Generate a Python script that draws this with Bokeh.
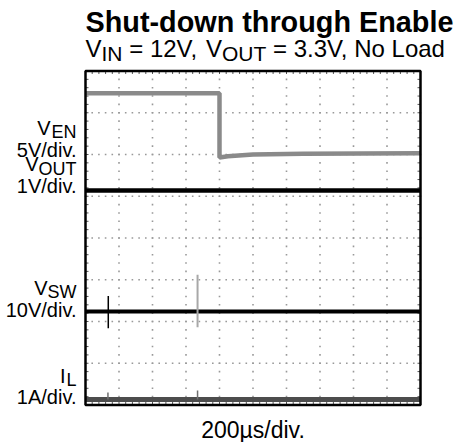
from bokeh.plotting import figure
from bokeh.models import Label, Range1d
from bokeh.embed import file_html
from bokeh.resources import INLINE

# ---- data (time in microseconds, amplitude in screen divisions) ----
t_en = [0, 800, 800, 850, 1000, 1300, 2000]
v_en = [7.47, 7.47, 5.93, 5.96, 6.00, 6.02, 6.03]

t_out = [0, 2000]
v_out = [5.14, 5.14]

t_sw = [0, 2000]
v_sw = [2.24, 2.24]
sw_spike_t = [136, 669]
sw_spike_lo = [1.84, 1.86]
sw_spike_hi = [2.61, 3.12]

t_il = [0, 2000]
v_il = [0.13, 0.13]
il_spike_t = [134, 669]
il_spike_hi = [0.30, 0.35]

x_major = [0, 200, 400, 600, 800, 1000, 1200, 1400, 1600, 1800, 2000]
x_minor = [i * 40 for i in range(51)]
y_major = [0, 1, 2, 3, 4, 5, 6, 7, 8]
y_minor = [i * 0.2 for i in range(41)]

# ---- layout (pixels) ----
W, H = 463, 442
SL, SR, ST, SB = 85.0, 420.0, 70.5, 404.5   # scope screen edges
x0, x1 = x_major[0], x_major[-1]
y0, y1 = y_major[0], y_major[-1]
kx = (x1 - x0) / (SR - SL)   # data per px
ky = (y1 - y0) / (SB - ST)

p = figure(width=W, height=H, output_backend="svg", toolbar_location=None,
           x_axis_type=None, y_axis_type=None,
           min_border=0, min_border_left=0, min_border_right=0,
           min_border_top=0, min_border_bottom=0)
p.x_range = Range1d(x0 - SL * kx, x1 + (W - SR) * kx)
p.y_range = Range1d(y0 - (H - SB) * ky, y1 + ST * ky)
p.outline_line_color = None
p.background_fill_color = "white"
p.border_fill_color = "white"

# graticule: dotted division lines (one dot per minor subdivision)
inner_x = x_major[1:-1]
inner_y = y_major[1:-1]
dot_x = [x for x in inner_x for _ in y_minor] + [x for _ in inner_y for x in x_minor]
dot_y = [y for _ in inner_x for y in y_minor] + [y for y in inner_y for _ in x_minor]
p.scatter(dot_x, dot_y, marker="square", size=1.6, fill_color="#999999", line_color=None)

# small ticks on the inside of the frame
tl = 3.0
p.segment(x0=x_minor, y0=[y0] * len(x_minor), x1=x_minor, y1=[y0 + tl * ky] * len(x_minor),
          line_color="#555555", line_width=1)
p.segment(x0=x_minor, y0=[y1] * len(x_minor), x1=x_minor, y1=[y1 - tl * ky] * len(x_minor),
          line_color="#555555", line_width=1)
p.segment(x0=[x0] * len(y_minor), y0=y_minor, x1=[x0 + tl * kx] * len(y_minor), y1=y_minor,
          line_color="#555555", line_width=1)
p.segment(x0=[x1] * len(y_minor), y0=y_minor, x1=[x1 - tl * kx] * len(y_minor), y1=y_minor,
          line_color="#555555", line_width=1)

# traces
p.line(t_il, v_il, line_color="#4d4d4d", line_width=5)
p.segment(x0=il_spike_t, y0=v_il[:1] * 2, x1=il_spike_t, y1=il_spike_hi, line_color="#707070", line_width=1.5)
p.line(t_sw, v_sw, line_color="black", line_width=4)
p.segment(x0=sw_spike_t[:1], y0=sw_spike_lo[:1], x1=sw_spike_t[:1], y1=sw_spike_hi[:1], line_color="black", line_width=1.5)
p.segment(x0=sw_spike_t[1:], y0=sw_spike_lo[1:], x1=sw_spike_t[1:], y1=sw_spike_hi[1:], line_color="#a8a8a8", line_width=2)
p.line(t_out, v_out, line_color="black", line_width=4.5)
p.line(t_en, v_en, line_color="#8a8a8a", line_width=4.5)

# frame
p.quad(left=[x0], right=[x1], bottom=[y0], top=[y1], fill_color=None,
       line_color="black", line_width=2.5)

FONT = "Liberation Sans"


def txt(s, X, Y, size, bold=False, align="left"):
    # X, Y: screen position of the text baseline, from top-left
    Yc = Y - 0.3 * size  # compensate svg baseline placement
    p.add_layout(Label(x=X, y=H - Yc, x_units="screen", y_units="screen",
                       text=s, text_font=FONT, text_font_size=f"{size}px",
                       text_font_style="bold" if bold else "normal",
                       text_align=align, text_baseline="alphabetic", text_color="black"))


# title and subtitle
txt("Shut-down through Enable", 85, 30, 28.8, bold=True)
txt("V", 85, 55, 24)
txt("IN", 101.0, 59, 21)
txt("= 12V,", 128.7, 55, 24)
txt("V", 205.5, 55, 24)
txt("OUT", 221.5, 59, 21)
txt("= 3.3V, No Load", 272.5, 55, 24)

# channel labels
txt("V", 50, 133, 20, align="right")
txt("EN", 76, 137, 18, align="right")
txt("5V/div.", 76, 155, 20, align="right")
txt("V", 38, 169, 20, align="right")
txt("OUT", 76, 174, 18, align="right")
txt("1V/div.", 76, 191, 20, align="right")
txt("V", 47, 293, 20, align="right")
txt("SW", 76, 297, 18, align="right")
txt("10V/div.", 76, 315, 20, align="right")
txt("I", 65, 381, 20, align="right")
txt("L", 76, 385, 18, align="right")
txt("1A/div.", 76, 402, 20, align="right")

# time base
txt("200\u00b5s/div.", 252.5, 436, 23, align="center")

open("out.html", "w").write(file_html(p, INLINE))
